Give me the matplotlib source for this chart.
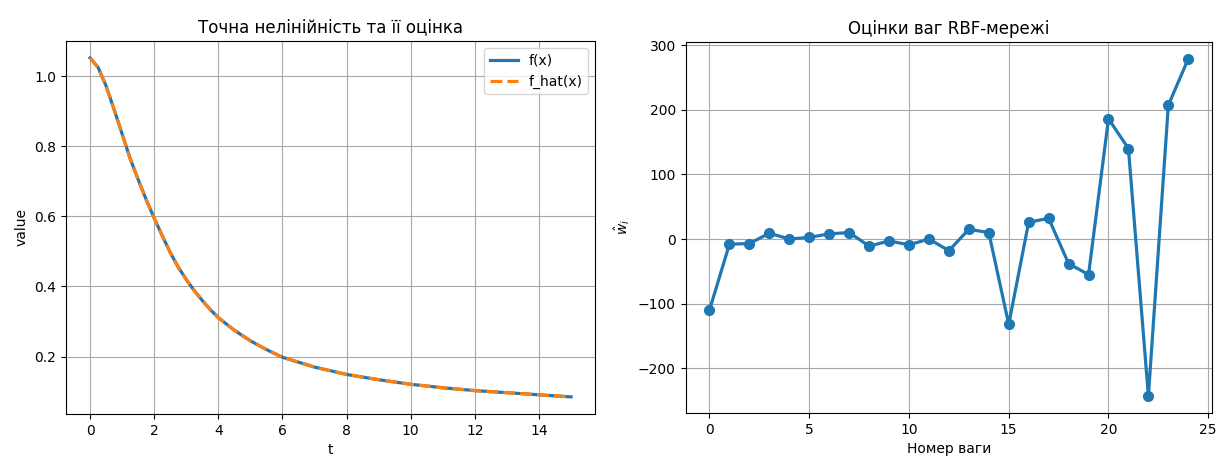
import matplotlib
matplotlib.use("Agg")
import matplotlib.pyplot as plt

# Left panel: exact nonlinearity and its estimate
t_vals = [0, 0.25, 0.5, 0.75, 1.0, 1.25, 1.5, 1.75, 2.0, 2.25, 2.5, 2.75, 3.0, 3.25,
          3.5, 3.75, 4.0, 4.5, 5.0, 5.5, 6.0, 7.0, 8.0, 9.0, 10.0, 11.0, 12.0,
          13.0, 14.0, 15.0]
f_vals = [1.052, 1.025, 0.972, 0.905, 0.835, 0.765, 0.705, 0.648, 0.595, 0.545,
          0.497, 0.455, 0.42, 0.388, 0.36, 0.334, 0.311, 0.275, 0.245, 0.22, 0.198,
          0.17, 0.149, 0.134, 0.121, 0.111, 0.103, 0.097, 0.091, 0.085]
f_hat_vals = [1.052, 1.025, 0.972, 0.905, 0.835, 0.765, 0.705, 0.648, 0.595, 0.545,
              0.497, 0.455, 0.42, 0.388, 0.36, 0.334, 0.311, 0.275, 0.245, 0.22, 0.198,
              0.17, 0.149, 0.134, 0.121, 0.111, 0.103, 0.097, 0.091, 0.085]

# Right panel: RBF weight estimates
w_idx = list(range(25))
w_vals = [-110, -8, -7, 9, 0, 2.5, 8, 10, -11, -3, -9, 0, -18, 15, 10,
          -132, 26, 32, -38, -55, 186, 140, -243, 207, 279]

plt.rcParams["grid.color"] = "#a8a8a8"

fig = plt.figure(figsize=(12.22, 4.65), dpi=100)
ax1 = fig.add_axes([0.054, 0.110, 0.433, 0.802])
ax2 = fig.add_axes([0.561, 0.112, 0.431, 0.798])

ax1.plot(t_vals, f_vals, color="#1f77b4", lw=2.3, label="f(x)")
ax1.plot(t_vals, f_hat_vals, color="#ff7f0e", lw=2.3, ls="--", label="f_hat(x)")
ax1.set_title("Точна нелінійність та її оцінка")
ax1.set_xlabel("t")
ax1.set_ylabel("value")
ax1.grid(True)
ax1.legend(loc="upper right")

ax2.plot(w_idx, w_vals, color="#1f77b4", lw=2.3, marker="o", markersize=7)
ax2.set_title("Оцінки ваг RBF-мережі")
ax2.set_xlabel("Номер ваги")
ax2.set_ylabel(r"$\hat{w}_i$")
ax2.grid(True)

fig.savefig("out.png", dpi=100)
